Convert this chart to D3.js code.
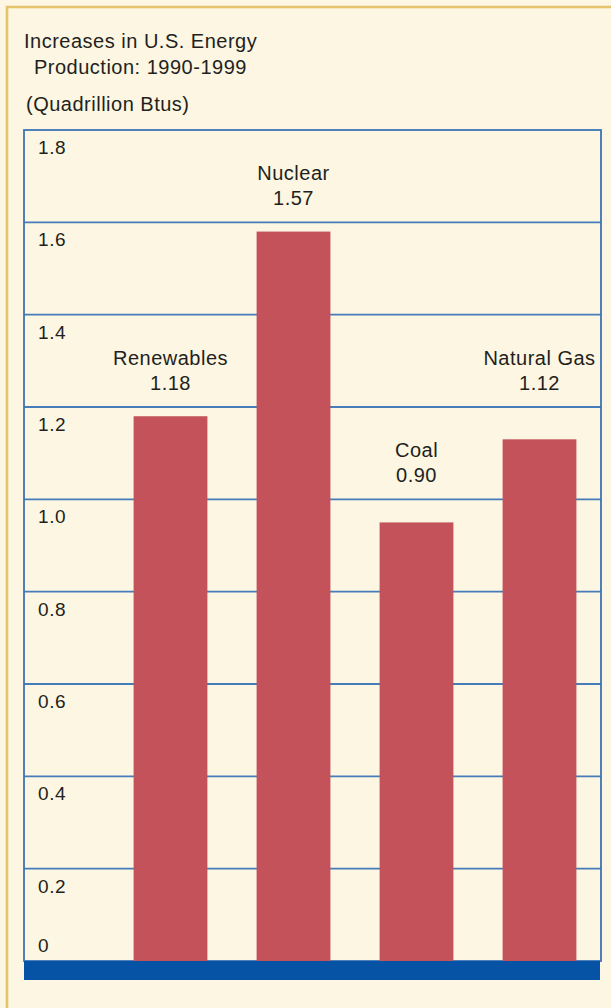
<script src="https://cdn.jsdelivr.net/npm/d3@7"></script>
<style>
  body { margin: 0; background: #fcf6e2; }
  text { font-family: "Liberation Sans", Arial, Helvetica, sans-serif; fill: #231f20; }
</style>
<div id="chart"></div>
<script>
  const w = 611, h = 1008

  // chart data
  const categories = ["Renewables", "Nuclear", "Coal", "Natural Gas"]
  const values = [1.18, 1.58, 0.95, 1.13]          // bar heights as drawn
  const valueLabels = ["1.18", "1.57", "0.90", "1.12"]
  const yTicks = [0, 0.2, 0.4, 0.6, 0.8, 1.0, 1.2, 1.4, 1.6, 1.8]
  const tickLabels = ["0", "0.2", "0.4", "0.6", "0.8", "1.0", "1.2", "1.4", "1.6", "1.8"]
  const titleLines = ["Increases in U.S. Energy", "Production: 1990-1999"]
  const unitLabel = "(Quadrillion Btus)"

  const frameLeft = 24, frameRight = 601

  const y = d3.scaleLinear().domain([0, 1.8]).range([961, 130])
  const x = d3.scaleBand()
    .domain(categories)
    .range([109, 601])
    .paddingInner(0.4)
    .paddingOuter(0.2)

  const svg = d3.select("#chart").append("svg")
    .attr("width", w)
    .attr("height", h)

  svg.append("rect")
    .attr("width", w).attr("height", h)
    .attr("fill", "#fcf6e2")

  // gold border top + left
  svg.append("path")
    .attr("d", `M7,${h} V7 H${w}`)
    .attr("fill", "none")
    .attr("stroke", "#e6c46c")
    .attr("stroke-width", 2.6)

  // titles
  svg.append("text")
    .attr("x", 24).attr("y", 48)
    .attr("font-size", 20).attr("letter-spacing", 0.5)
    .text(titleLines[0])
  svg.append("text")
    .attr("x", 34).attr("y", 74)
    .attr("font-size", 20).attr("letter-spacing", 0.5)
    .text(titleLines[1])
  svg.append("text")
    .attr("x", 26).attr("y", 111)
    .attr("font-size", 20).attr("letter-spacing", 0.5)
    .text(unitLabel)

  // gridlines
  svg.append("g")
    .selectAll("line")
    .data(yTicks.filter(d => d > 0 && d < 1.8))
    .join("line")
      .attr("x1", frameLeft).attr("x2", frameRight)
      .attr("y1", d => y(d)).attr("y2", d => y(d))
      .attr("stroke", "#467cb9")
      .attr("stroke-width", 1.8)

  // frame
  svg.append("rect")
    .attr("x", frameLeft).attr("y", y(1.8))
    .attr("width", frameRight - frameLeft)
    .attr("height", y(0) - y(1.8))
    .attr("fill", "none")
    .attr("stroke", "#3d74b6")
    .attr("stroke-width", 1.8)

  // tick labels
  svg.append("g")
    .selectAll("text")
    .data(yTicks)
    .join("text")
      .attr("x", 38)
      .attr("y", d => d === 0 ? y(d) - 9 : y(d) + 24)
      .attr("font-size", 19)
      .attr("letter-spacing", 0.6)
      .text((d, i) => tickLabels[i])

  // bars
  svg.append("g")
    .selectAll("rect")
    .data(values)
    .join("rect")
      .attr("x", (d, i) => x(categories[i]))
      .attr("y", d => y(d))
      .attr("width", x.bandwidth())
      .attr("height", d => y(0) - y(d))
      .attr("fill", "#c4525a")

  // blue base bar
  svg.append("rect")
    .attr("x", frameLeft).attr("y", y(0))
    .attr("width", frameRight - 1 - frameLeft)
    .attr("height", 19)
    .attr("fill", "#0653a5")

  // labels sit just above the gridline over each bar
  const labelBase = v => y(Math.ceil(v * 5 - 1e-9) / 5) - 17

  const labels = svg.append("g")
    .selectAll("g")
    .data(values)
    .join("g")
      .attr("transform", (d, i) => `translate(${x(categories[i]) + x.bandwidth() / 2}, ${labelBase(d)})`)

  labels.append("text")
    .attr("y", -25)
    .attr("text-anchor", "middle")
    .attr("font-size", 20).attr("letter-spacing", 0.5)
    .text((d, i) => categories[i])
  labels.append("text")
    .attr("text-anchor", "middle")
    .attr("font-size", 20).attr("letter-spacing", 0.5)
    .text((d, i) => valueLabels[i])
</script>
